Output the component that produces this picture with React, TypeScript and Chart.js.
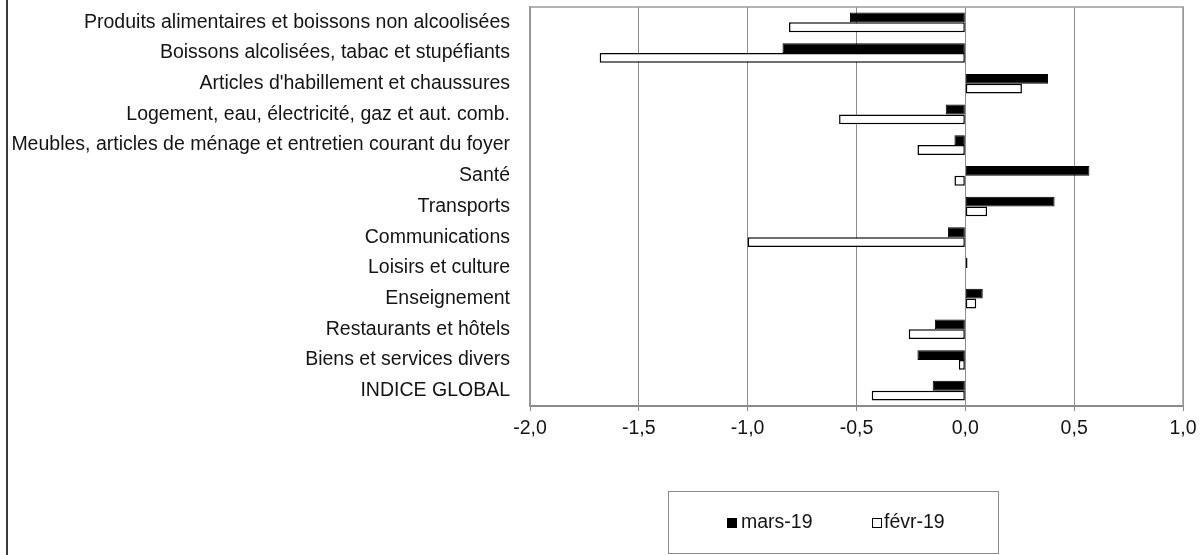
import React, { useEffect, useRef } from 'react';
import { Chart, registerables } from 'chart.js';

Chart.register(...registerables);

const categories = [
  'Produits alimentaires et boissons non alcoolisées',
  'Boissons alcolisées, tabac et stupéfiants',
  "Articles d'habillement et chaussures",
  'Logement, eau, électricité, gaz et aut. comb.',
  'Meubles, articles de ménage et entretien courant du foyer',
  'Santé',
  'Transports',
  'Communications',
  'Loisirs et culture',
  'Enseignement',
  'Restaurants et hôtels',
  'Biens et services divers',
  'INDICE GLOBAL',
];

const marsValues = [-0.53, -0.84, 0.38, -0.09, -0.05, 0.57, 0.41, -0.08, 0.01, 0.08, -0.14, -0.22, -0.15];
const fevrValues = [-0.81, -1.68, 0.26, -0.58, -0.22, -0.05, 0.10, -1.0, 0.0, 0.05, -0.26, -0.03, -0.43];

const seriesLabels = ['mars-19', 'févr-19'];

const xTickLabels = ['-2,0', '-1,5', '-1,0', '-0,5', '0,0', '0,5', '1,0'];
const xMin = -2;
const xMax = 1;
const xStep = 0.5;

const FONT = '"Liberation Sans", Arial, sans-serif';
const TEXT = '#141414';
const FS = 19.5;

const decorPlugin = {
  id: 'decor',
  beforeDraw(chart: any) {
    const { ctx, width, height } = chart;
    ctx.save();
    ctx.fillStyle = '#ffffff';
    ctx.fillRect(0, 0, width, height);
    ctx.restore();
  },
  afterDraw(chart: any) {
    const { ctx, chartArea } = chart;
    const { left, top, right } = chartArea;
    ctx.save();
    // plot frame top + right
    ctx.strokeStyle = '#9a9a9a';
    ctx.lineWidth = 1.5;
    ctx.beginPath();
    ctx.moveTo(left, top);
    ctx.lineTo(right, top);
    ctx.lineTo(right, chartArea.bottom);
    ctx.stroke();

    // outer left border
    ctx.strokeStyle = '#3a3a3a';
    ctx.lineWidth = 2;
    ctx.beginPath();
    ctx.moveTo(7, 0);
    ctx.lineTo(7, chart.height);
    ctx.stroke();

    // legend box
    ctx.strokeStyle = '#8a8a8a';
    ctx.lineWidth = 1;
    ctx.strokeRect(668.5, 491.5, 330, 62);

    const ds = chart.data.datasets;
    const items = [
      { sx: 727, tx: 741 },
      { sx: 872, tx: 884 },
    ];
    ctx.font = `${FS}px ${FONT}`;
    ctx.textBaseline = 'middle';
    ctx.textAlign = 'left';
    ds.forEach((d: any, i: number) => {
      const it = items[i];
      if (!it) return;
      ctx.fillStyle = d.backgroundColor;
      ctx.fillRect(it.sx, 518, 10, 10);
      ctx.strokeStyle = '#000';
      ctx.lineWidth = 1;
      ctx.strokeRect(it.sx + 0.5, 518.5, 9, 9);
      ctx.fillStyle = TEXT;
      ctx.fillText(d.label, it.tx, 523);
    });
    ctx.restore();
  },
};

export default function App() {
  const ref = useRef<HTMLCanvasElement | null>(null);

  useEffect(() => {
    if (!ref.current) return;
    const chart = new Chart(ref.current, {
      type: 'bar',
      data: {
        labels: categories,
        datasets: [
          {
            label: seriesLabels[0],
            data: marsValues,
            backgroundColor: '#000000',
            borderColor: '#000000',
            borderWidth: 1,
            borderSkipped: false,
            categoryPercentage: 0.64,
            barPercentage: 1,
          },
          {
            label: seriesLabels[1],
            data: fevrValues,
            backgroundColor: '#ffffff',
            borderColor: '#000000',
            borderWidth: 1.5,
            borderSkipped: false,
            categoryPercentage: 0.64,
            barPercentage: 1,
          },
        ],
      },
      options: {
        indexAxis: 'y',
        responsive: false,
        maintainAspectRatio: false,
        animation: false,
        layout: { padding: { top: 7, right: 21, left: 0, bottom: 0 } },
        plugins: {
          legend: { display: false },
          tooltip: { enabled: false },
        },
        scales: {
          x: {
            type: 'linear',
            position: 'bottom',
            min: xMin,
            max: xMax,
            afterFit: (s: any) => {
              s.height = 149;
            },
            ticks: {
              stepSize: xStep,
              padding: 6,
              color: TEXT,
              font: { family: FONT, size: FS },
              maxRotation: 0,
              callback: (_v: any, i: number) => xTickLabels[i],
            },
            grid: {
              color: '#8c8c8c',
              lineWidth: 1,
              drawTicks: true,
              tickLength: 5,
              tickColor: '#8c8c8c',
            },
            border: { display: true, color: '#8a8a8a', width: 2 },
          },
          y: {
            type: 'category',
            position: 'left',
            afterFit: (s: any) => {
              s.width = 530;
              s.paddingTop = 0;
              s.paddingBottom = 0;
            },
            ticks: {
              padding: 20,
              color: TEXT,
              font: { family: FONT, size: FS },
              autoSkip: false,
            },
            grid: { display: false, drawTicks: false },
            border: { display: true, color: '#9a9a9a', width: 1.5 },
          },
        },
      },
      plugins: [decorPlugin],
    } as any);
    return () => chart.destroy();
  }, []);

  return (
    <div style={{ position: 'absolute', left: 0, top: 0, width: 1204, height: 555, background: '#fff' }}>
      <canvas ref={ref} width={1204} height={555} style={{ display: 'block', width: 1204, height: 555 }} />
    </div>
  );
}
